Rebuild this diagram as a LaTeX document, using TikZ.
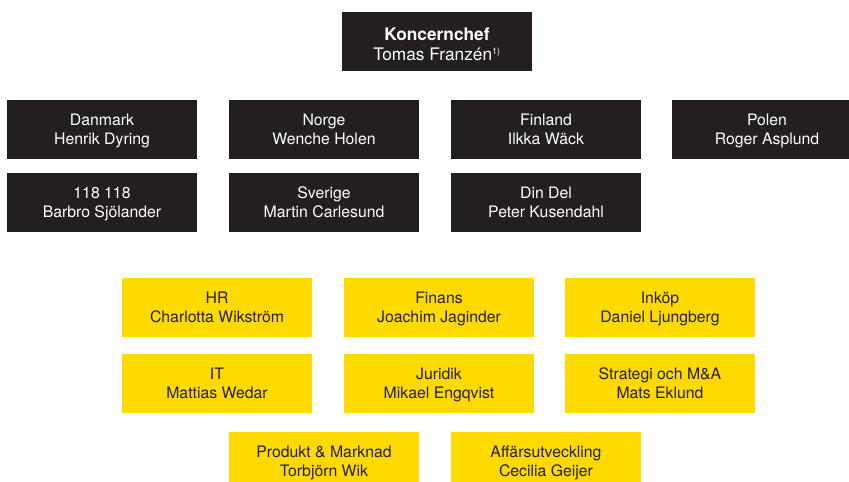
\documentclass[tikz,border=0pt]{standalone}
\usepackage{fontspec}
\setmainfont{TeX Gyre Heros}
\definecolor{boxblack}{HTML}{231F20}
\definecolor{boxyellow}{HTML}{FFDA00}
\tikzset{
  orgbox/.style={minimum width=190pt, minimum height=59pt, inner sep=0pt, align=center,
    text height=33pt, text depth=4pt, font=\fontsize{15.8}{19}\selectfont},
  blackbox/.style={orgbox, fill=boxblack, text=white},
  yellowbox/.style={orgbox, fill=boxyellow, text=boxblack},
  topbox/.style={blackbox, text height=42.4pt, font=\fontsize{17.3}{20.6}\selectfont}
}
\begin{document}
\begin{tikzpicture}[x=1pt,y=-1pt]
        \useasboundingbox (0,0) rectangle (849,482);
        \clip (0,0) rectangle (849,482);

        % koncernchef
        \node[topbox] (ceo) at (437,41.5) {\textbf{Koncernchef}\\Tomas Franzén\textsuperscript{\fontsize{9}{9}\selectfont 1)}};

        % affärsområden
        \node[blackbox] (danmark) at (102,129.5) {Danmark\\Henrik Dyring};
        \node[blackbox] (norge) at (324,129.5) {Norge\\Wenche Holen};
        \node[blackbox] (finland) at (546,129.5) {Finland\\Ilkka Wäck};
        \node[blackbox] (polen) at (767,129.5) {Polen\\Roger Asplund};
        \node[blackbox] (nummer) at (102,202.5) {118 118\\Barbro Sjölander};
        \node[blackbox] (sverige) at (324,202.5) {Sverige\\Martin Carlesund};
        \node[blackbox] (dindel) at (546,202.5) {Din Del\\Peter Kusendahl};

        % koncernfunktioner
        \node[yellowbox] (hr) at (217,307.5) {HR\\Charlotta Wikström};
        \node[yellowbox] (finans) at (439,307.5) {Finans\\Joachim Jaginder};
        \node[yellowbox] (inkop) at (660,307.5) {Inköp\\Daniel Ljungberg};
        \node[yellowbox] (it) at (217,383.5) {IT\\Mattias Wedar};
        \node[yellowbox] (juridik) at (439,383.5) {Juridik\\Mikael Engqvist};
        \node[yellowbox] (strategi) at (660,383.5) {Strategi och M\&A\\Mats Eklund};
        \node[yellowbox] (produkt) at (324,461.5) {Produkt \& Marknad\\Torbjörn Wik};
        \node[yellowbox] (affars) at (546,461.5) {Affärsutveckling\\Cecilia Geijer};
    \end{tikzpicture}
\end{document}
